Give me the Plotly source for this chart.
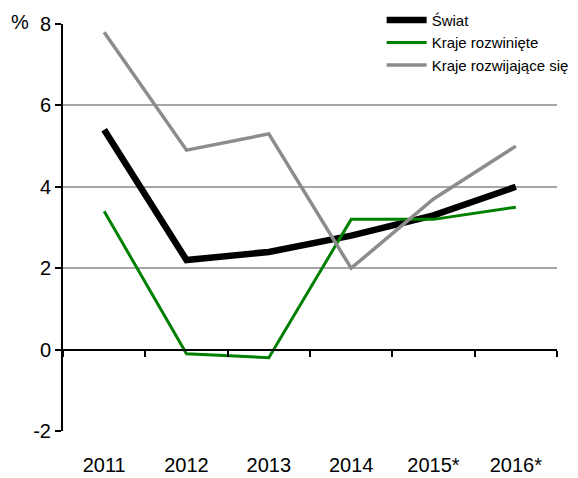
import plotly.graph_objects as go

years = ["2011", "2012", "2013", "2014", "2015*", "2016*"]
swiat = [5.4, 2.2, 2.4, 2.8, 3.3, 4.0]
rozwiniete = [3.4, -0.1, -0.2, 3.2, 3.2, 3.5]
rozwijajace = [7.8, 4.9, 5.3, 2.0, 3.7, 5.0]
y_ticks = [-2, 0, 2, 4, 6, 8]
y_labels = ["-2", "0", "2", "4", "6", "8"]
boundaries = [-0.5, 0.5, 1.5, 2.5, 3.5, 4.5, 5.5]

FONT = "Liberation Sans Narrow, Arial Narrow, Liberation Sans, Arial, sans-serif"

fig = go.Figure()
fig.add_trace(go.Scatter(x=years, y=swiat, name="Świat", mode="lines", legendgroup="a",
                         line=dict(color="#000000", width=6.5)))
fig.add_trace(go.Scatter(x=years, y=rozwiniete, name="Kraje rozwinięte", mode="lines",
                         legendgroup="b", line=dict(color="#008000", width=3)))
fig.add_trace(go.Scatter(x=years, y=rozwijajace, name="Kraje rozwijające się", mode="lines",
                         legendgroup="c", line=dict(color="#8c8c8c", width=3.5)))

fig.update_layout(
    width=570, height=470,
    margin=dict(l=55, r=21, t=16, b=47, autoexpand=False),
    plot_bgcolor="white", paper_bgcolor="white",
    font=dict(family=FONT, size=20, color="black"),
    showlegend=True,
    legend=dict(x=0.645, y=1.05, xanchor="left", yanchor="top",
                bgcolor="white", font=dict(size=15, family=FONT),
                tracegroupgap=0, itemwidth=40),
    xaxis=dict(type="category", categoryorder="array", categoryarray=years,
               range=[-0.5, 5.5], showgrid=False, showline=False, zeroline=False,
               ticks="", tickfont=dict(size=20), ticklabelstandoff=20),
    yaxis=dict(range=[-2, 8], tickvals=y_ticks, ticktext=y_labels, showgrid=True,
               gridcolor="#a6a6a6", gridwidth=2, zeroline=False, showline=True,
               linecolor="black", linewidth=2, ticks="outside", ticklen=6, tickwidth=2,
               tickcolor="black", tickfont=dict(size=20)),
    xaxis2=dict(overlaying="x", anchor="free", position=0.2, side="bottom",
                range=[-0.5, 5.5], tickvals=boundaries, showticklabels=False,
                showline=True, linecolor="black", linewidth=2, ticks="outside",
                ticklen=6, tickwidth=2, tickcolor="black", showgrid=False, zeroline=False),
)
fig.add_trace(go.Scatter(x=[None], y=[None], xaxis="x2", showlegend=False, hoverinfo="skip"))

fig.add_annotation(text="%", xref="paper", yref="paper", x=0, y=1.0, xshift=-32,
                   yshift=2, xanchor="right", yanchor="middle", showarrow=False,
                   font=dict(size=20, family=FONT))

fig.write_html("out.html")
